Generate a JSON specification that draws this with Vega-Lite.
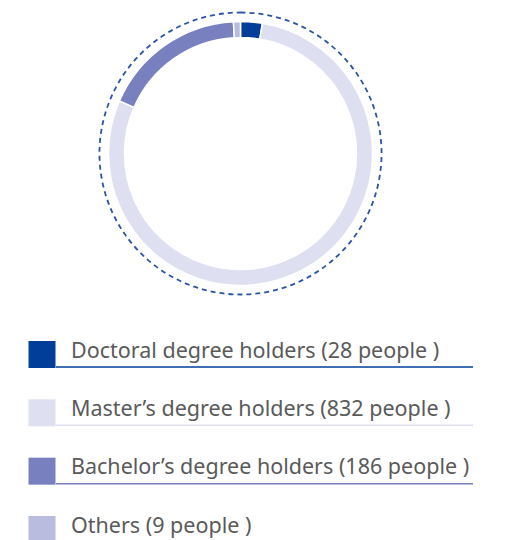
{
  "$schema": "https://vega.github.io/schema/vega-lite/v6.json",
  "padding": 0,
  "spacing": 0,
  "config": {"view": {"stroke": null}, "concat": {"spacing": 0}},
  "datasets": {
    "degrees": [
      {"category": "Doctoral", "label": "Doctoral degree holders (28 people )", "people": 28, "idx": 1},
      {"category": "Master's", "label": "Master’s degree holders (832 people )", "people": 832, "idx": 2},
      {"category": "Bachelor's", "label": "Bachelor’s degree holders (186 people )", "people": 186, "idx": 3},
      {"category": "Others", "label": "Others (9 people )", "people": 9, "idx": 4}
    ]
  },
  "vconcat": [
    {
      "width": 481,
      "height": 307,
      "layer": [
        {
          "data": {"values": [{"ring": "outline"}]},
          "mark": {"type": "arc", "theta": 0, "theta2": 6.2832, "innerRadius": 0, "outerRadius": 141, "fill": "transparent", "stroke": "#2a55a6", "strokeWidth": 1.8, "strokeDash": [5, 4]},
          "encoding": {}
        },
        {
          "data": {"name": "degrees"},
          "mark": {"type": "arc", "innerRadius": 116, "outerRadius": 132, "stroke": "white", "strokeWidth": 1.5},
          "encoding": {
            "theta": {"field": "people", "type": "quantitative", "stack": true},
            "order": {"field": "idx", "type": "quantitative"},
            "color": {
              "field": "category", "type": "nominal",
              "scale": {"domain": ["Doctoral", "Master's", "Bachelor's", "Others"], "range": ["#003e99", "#dedff0", "#7880bf", "#b9bcdf"]},
              "legend": null
            }
          }
        }
      ]
    },
    {
      "width": 506,
      "height": 233,
      "data": {"name": "degrees"},
      "encoding": {
        "y": {"field": "category", "type": "nominal", "sort": ["Doctoral", "Master's", "Bachelor's", "Others"], "scale": {"type": "point", "padding": 0, "range": [47.5, 222.5]}, "axis": null},
        "color": {
          "field": "category", "type": "nominal",
          "scale": {"domain": ["Doctoral", "Master's", "Bachelor's", "Others"], "range": ["#003e99", "#dedff0", "#7880bf", "#b9bcdf"]},
          "legend": null
        }
      },
      "layer": [
        {
          "transform": [{"filter": "datum.category !== 'Others'"}],
          "mark": {"type": "rule", "x": 56, "x2": 473, "yOffset": 12.5, "strokeWidth": 1.5}
        },
        {
          "mark": {"type": "point", "shape": "square", "filled": true, "opacity": 1, "size": 729, "x": 42}
        },
        {
          "mark": {"type": "text", "x": 71, "align": "left", "baseline": "alphabetic", "dy": 3, "font": "Noto Sans", "fontSize": 21.5, "color": "#5a5a5a"},
          "encoding": {"text": {"field": "label"}, "color": {"value": "#5a5a5a"}}
        }
      ]
    }
  ]
}
